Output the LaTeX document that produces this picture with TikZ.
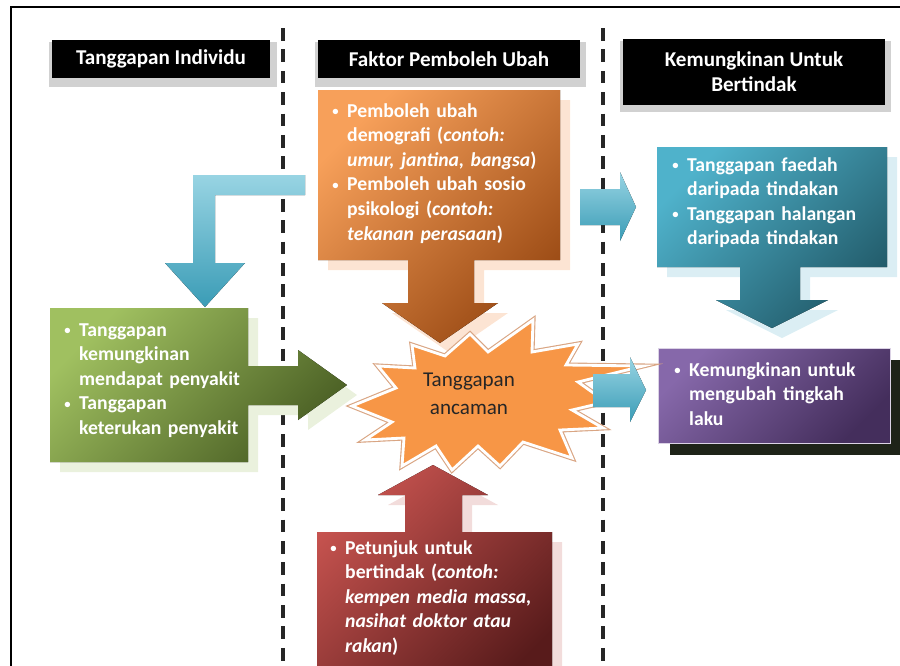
\documentclass[tikz,border=0pt]{standalone}
\usepackage{fontspec}
\setmainfont{Carlito}
\definecolor{orA}{HTML}{F7A05A}\definecolor{orB}{HTML}{9A4A14}\definecolor{orS}{HTML}{FCE4D3}
\definecolor{cyA}{HTML}{4FB2CB}\definecolor{cyB}{HTML}{225B6A}\definecolor{cyS}{HTML}{DBEEF4}
\definecolor{grA}{HTML}{A0C060}\definecolor{grB}{HTML}{4A5F24}\definecolor{grS}{HTML}{EAF1DD}
\definecolor{puA}{HTML}{8668AA}\definecolor{puB}{HTML}{442E5C}\definecolor{puS}{HTML}{1E2318}
\definecolor{rdA}{HTML}{C6534F}\definecolor{rdB}{HTML}{581B1B}\definecolor{rdS}{HTML}{F2DCDB}
\definecolor{arA}{HTML}{98D4E3}\definecolor{arB}{HTML}{3A9CB6}
\definecolor{stF}{HTML}{F79646}\definecolor{stE}{HTML}{D9A583}
\newlength{\bhang}\setlength{\bhang}{10.6pt}
\newcommand{\bitem}[1]{\noindent\hangindent=\bhang\hangafter=1\makebox[\bhang][l]{\raisebox{0.15ex}{\fontsize{9}{9}\selectfont •}}#1\par}
\tikzset{
  boxtext/.style={anchor=base west, inner sep=0pt, text=white, font=\fontsize{14}{17.5}\selectfont\bfseries, text width=8cm, align=left},
  hdrtext/.style={inner sep=0pt, text=white, font=\fontsize{15}{18}\selectfont\bfseries, align=center},
  hdrbox/.style={fill=black},
  hdrshadow/.style={fill=black!18},
  grad/.style 2 args={top color=#1, bottom color=#2, shading angle=45},
  arrowfill/.style={top color=arA, bottom color=arB},
  sepline/.style={line width=2.6pt, dash pattern=on 9pt off 6.2pt, black!85},
}
\begin{document}
\begin{tikzpicture}[x=0.025cm,y=-0.025cm]
\useasboundingbox (0,0) rectangle (900,665);
\clip (0,0) rectangle (900,665);
% frame
\draw[line width=1.5pt] (11,700) -- (11,7) -- (930,7);
% separators
\draw[sepline] (283,28) -- (283,680);
\draw[sepline] (603,28) -- (603,680);
% headers
\fill[hdrshadow] (49,42) rectangle (277,87);
\fill[hdrbox] (52,40) rectangle (270,78);
\node[hdrtext] (hd1) at (161,59) {Tanggapan Individu};
\fill[hdrshadow] (315,42) rectangle (586,87);
\fill[hdrbox] (318,40) rectangle (580,78);
\node[hdrtext] (hd2) at (449,59) {Faktor Pemboleh Ubah};
\fill[hdrshadow] (620,41) rectangle (891,112);
\fill[hdrbox] (623,39) rectangle (885,105);
\node[hdrtext] (hd3) at (754,72) {Kemungkinan Untuk\\Bertindak};
% orange callout
\fill[orS, shift={(10,10)}] (318,90) -- (560,90) -- (560,260) -- (474,260) -- (474,303) -- (498,303) -- (440,343) -- (382,303) -- (408,303) -- (408,260) -- (318,260) -- cycle;
\fill[grad={orA}{orB}] (318,90) -- (560,90) -- (560,260) -- (474,260) -- (474,303) -- (498,303) -- (440,343) -- (382,303) -- (408,303) -- (408,260) -- (318,260) -- cycle;
\node[boxtext] (tOr) at (332,117) {\bitem{Pemboleh ubah\newline demografi (\textit{contoh:}\newline \textit{umur, jantina, bangsa})}\bitem{Pemboleh ubah sosio\newline psikologi (\textit{contoh:}\newline \textit{tekanan perasaan})}};
% cyan callout
\fill[cyS, shift={(10,10)}] (657,147) -- (887,147) -- (887,267) -- (800,267) -- (800,300) -- (828,300) -- (772,328) -- (716,300) -- (740,300) -- (740,267) -- (657,267) -- cycle;
\fill[grad={cyA}{cyB}] (657,147) -- (887,147) -- (887,267) -- (800,267) -- (800,300) -- (828,300) -- (772,328) -- (716,300) -- (740,300) -- (740,267) -- (657,267) -- cycle;
\node[boxtext] (tCy) at (672,171) {\bitem{Tanggapan faedah\newline daripada tindakan}\bitem{Tanggapan halangan\newline daripada tindakan}};
% green callout
\fill[grS, shift={(10,10)}] (50,308) -- (248,308) -- (248,366) -- (298,366) -- (298,350) -- (347,385) -- (298,420) -- (298,405) -- (248,405) -- (248,462) -- (50,462) -- cycle;
\fill[grad={grA}{grB}] (50,308) -- (248,308) -- (248,366) -- (298,366) -- (298,350) -- (347,385) -- (298,420) -- (298,405) -- (248,405) -- (248,462) -- (50,462) -- cycle;
\node[boxtext] (tGr) at (64,336) {\bitem{Tanggapan\newline kemungkinan\newline mendapat penyakit}\bitem{Tanggapan\newline keterukan penyakit}};
% purple box
\fill[puS] (670,360) rectangle (910,455);
\fill[grad={puA}{puB}] (658,348) rectangle (890,443);
\draw[white!70!puA, line width=0.6pt] (658,348) rectangle (890,443);
\node[boxtext] (tPu) at (674,376) {\bitem{Kemungkinan untuk\newline mengubah tingkah\newline laku}};
% red callout
\fill[rdS, shift={(10,10)}] (317,532) -- (405,532) -- (405,495) -- (378,495) -- (433,465) -- (488,495) -- (462,495) -- (462,532) -- (552,532) -- (552,700) -- (317,700) -- cycle;
\fill[grad={rdA}{rdB}] (317,532) -- (405,532) -- (405,495) -- (378,495) -- (433,465) -- (488,495) -- (462,495) -- (462,532) -- (552,532) -- (552,700) -- (317,700) -- cycle;
\node[boxtext] (tRd) at (330,554) {\bitem{Petunjuk untuk\newline bertindak (\textit{contoh:}\newline \textit{kempen media massa,}\newline \textit{nasihat doktor atau}\newline \textit{rakan})}};
% bent cyan arrow
\fill[arrowfill] (305,175) -- (193,175) -- (193,263) -- (165,263) -- (205,307) -- (245,263) -- (215,263) -- (215,195) -- (305,195) -- cycle;
% upper small cyan arrow
\fill[arrowfill] (580,189) -- (620,189) -- (620,172) -- (636,207) -- (620,241) -- (620,225) -- (580,225) -- cycle;
% star
\draw[stE, line width=3.6pt, line join=miter] (352,406) -- (396,388) -- (378,366) -- (415,368) -- (412,345) -- (445,356) -- (470,334) -- (488,352) -- (533,320) -- (532,352) -- (578,344) -- (566,365) -- (643,366) -- (578,382) -- (606,402) -- (572,410) -- (603,428) -- (560,430) -- (572,458) -- (523,442) -- (500,466) -- (478,446) -- (452,470) -- (436,446) -- (402,466) -- (404,438) -- (365,440) -- (392,422) -- cycle;
\draw[fill=stF, draw=white, line width=2pt, line join=miter] (352,406) -- (396,388) -- (378,366) -- (415,368) -- (412,345) -- (445,356) -- (470,334) -- (488,352) -- (533,320) -- (532,352) -- (578,344) -- (566,365) -- (643,366) -- (578,382) -- (606,402) -- (572,410) -- (603,428) -- (560,430) -- (572,458) -- (523,442) -- (500,466) -- (478,446) -- (452,470) -- (436,446) -- (402,466) -- (404,438) -- (365,440) -- (392,422) -- cycle;
\node[inner sep=0pt, align=center, text=black!85, font=\fontsize{15}{19.5}\selectfont] (tSt) at (469,394) {Tanggapan\\ancaman};
% lower small cyan arrow (over the star)
\fill[arrowfill] (593,374) -- (630,374) -- (630,357) -- (646,390) -- (630,422) -- (630,407) -- (593,407) -- cycle;
\end{tikzpicture}
\end{document}
